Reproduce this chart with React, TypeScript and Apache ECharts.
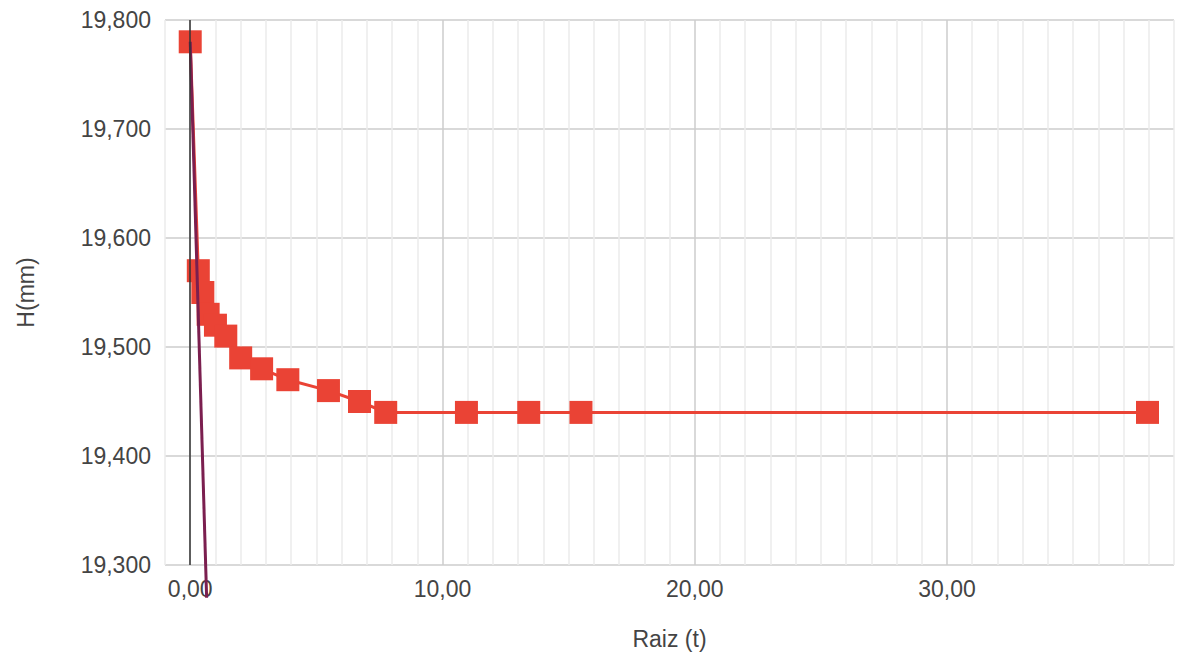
import React, { useEffect, useRef } from "react";
import * as echarts from "echarts";

const raizT = [0, 0.32, 0.5, 0.71, 1.0, 1.41, 2.0, 2.83, 3.87, 5.48, 6.71, 7.75, 10.95, 13.42, 15.49, 37.95];
const heightMm = [19.78, 19.57, 19.55, 19.53, 19.52, 19.51, 19.49, 19.48, 19.47, 19.46, 19.45, 19.44, 19.44, 19.44, 19.44, 19.44];
const tangentX = [0, 0.65];
const tangentY = [19.78, 19.27];

const FONT = 'Arial, "Liberation Sans", sans-serif';
const MINOR = "#ebebeb";
const MAJOR = "#cccccc";

export default function App() {
  const ref = useRef<HTMLDivElement>(null);
  useEffect(() => {
    document.body.style.margin = "0";
    const chart = echarts.init(ref.current!, null, { renderer: "svg" });
    const splitColors = [MINOR, MAJOR, MINOR, MINOR, MINOR, MINOR, MINOR, MINOR, MINOR, MINOR];
    chart.setOption({
      animation: false,
      backgroundColor: "#ffffff",
      grid: { left: 165, right: 1, top: 20, bottom: 96, containLabel: false },
      xAxis: {
        type: "value",
        min: -1,
        max: 39,
        interval: 1,
        name: "Raiz (t)",
        nameLocation: "middle",
        nameGap: 62,
        nameTextStyle: { color: "#444", fontSize: 23, fontFamily: FONT },
        axisLine: { show: false },
        axisTick: { show: false },
        axisLabel: {
          color: "#444",
          fontSize: 23,
          fontFamily: FONT,
          margin: 12,
          formatter: (v: number) => (Math.round(v) % 10 === 0 ? v.toFixed(2).replace(".", ",") : ""),
        },
        splitLine: { show: true, lineStyle: { color: splitColors, width: 1.5 } },
      },
      yAxis: {
        type: "value",
        min: 19.3,
        max: 19.8,
        interval: 0.1,
        name: "H(mm)",
        nameLocation: "middle",
        nameGap: 128,
        nameRotate: 90,
        nameTextStyle: { color: "#444", fontSize: 23, fontFamily: FONT },
        axisLine: { show: false },
        axisTick: { show: false },
        axisLabel: {
          color: "#444",
          fontSize: 23,
          fontFamily: FONT,
          margin: 14,
          formatter: (v: number) => v.toFixed(3).replace(".", ","),
        },
        splitLine: { show: true, lineStyle: { color: "#d9d9d9", width: 2 } },
      },
      series: [
        {
          type: "line",
          data: raizT.map((x, i) => [x, heightMm[i]]),
          symbol: "rect",
          symbolSize: 23,
          lineStyle: { color: "#ea4335", width: 3 },
          itemStyle: { color: "#ea4335" },
          z: 2,
        },
        {
          type: "line",
          data: tangentX.map((x, i) => [x, tangentY[i]]),
          symbol: "none",
          clip: false,
          lineStyle: { color: "#7b1f4f", width: 3 },
          z: 4,
          markLine: {
            silent: true,
            symbol: "none",
            label: { show: false },
            lineStyle: { color: "#333", width: 1.5, type: "solid" },
            data: [{ xAxis: 0 }],
          },
        },
      ],
    });
    return () => chart.dispose();
  }, []);
  return <div ref={ref} style={{ width: 1177, height: 661 }} />;
}
